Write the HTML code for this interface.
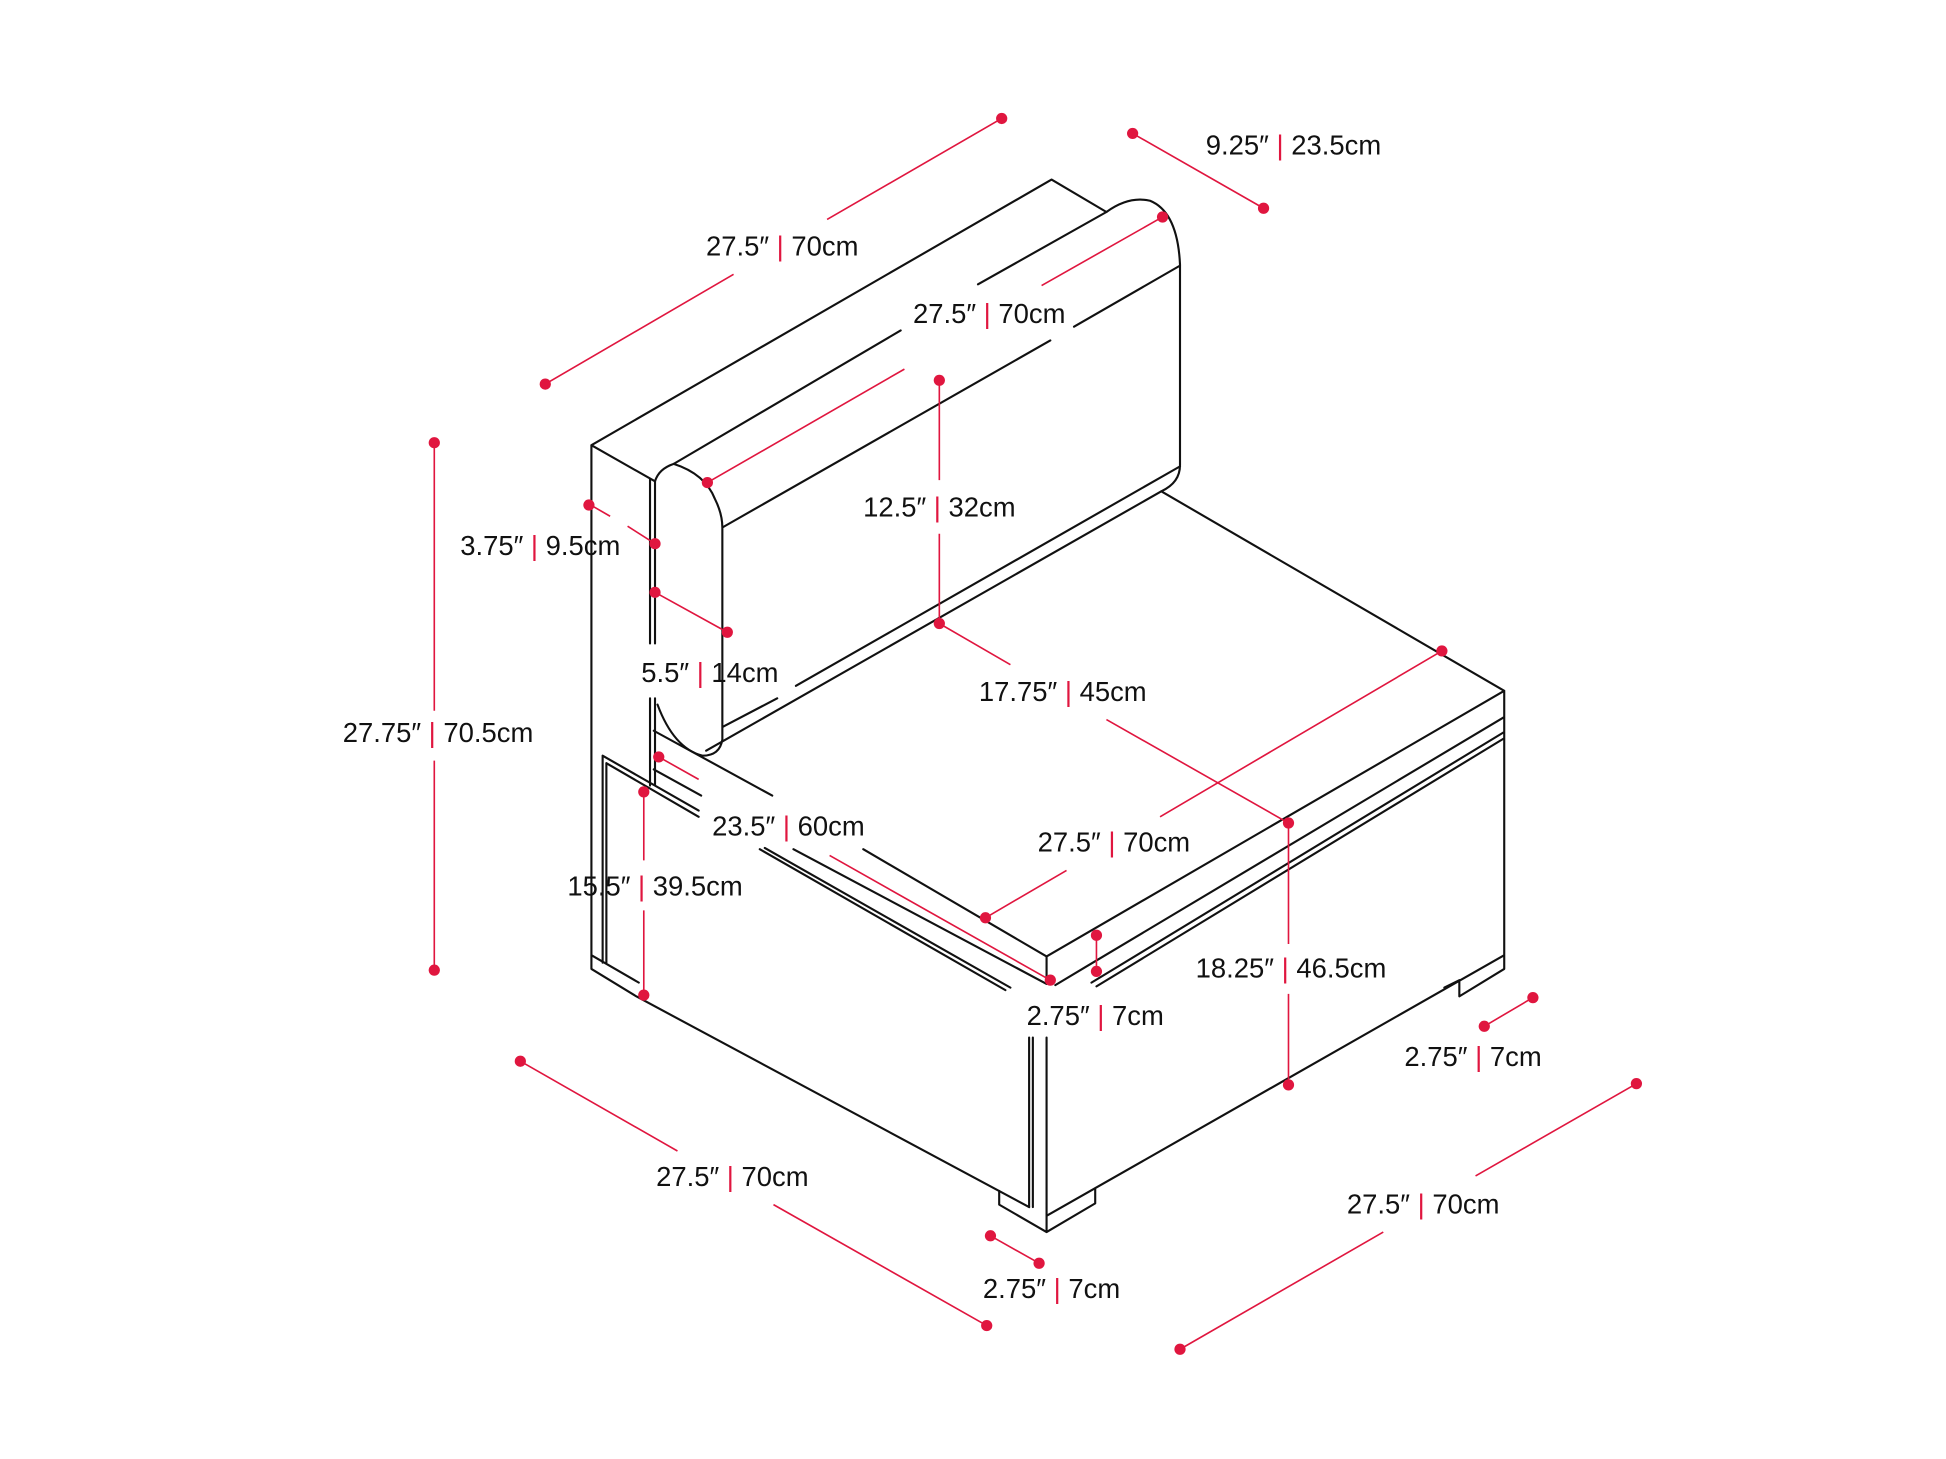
<!DOCTYPE html>
<html><head><meta charset="utf-8"><style>
html,body{margin:0;padding:0;background:#fff;width:1946px;height:1459px;overflow:hidden}
svg{position:absolute;left:0;top:0}
text{font-family:"Liberation Sans",sans-serif;font-size:22px;fill:#111;text-anchor:middle}
.b{fill:none;stroke:#111;stroke-width:1.7;stroke-linejoin:round;stroke-linecap:round}
.r{fill:none;stroke:#e0163f;stroke-width:1.3}
.d{fill:#e0163f}
.s{fill:#e0163f;font-weight:normal}
</style></head><body>
<svg width="1946" height="1459" viewBox="0 0 1560 1170" xmlns="http://www.w3.org/2000/svg">
<!-- back block -->
<path class="b" d="M474,357 L843,144 L887,170 M474,357 L525,386 M474,357 L474,777 L510,799 L825,968
M521,384 L521,516 M525,386 L525,516 M521,560 L521,630 M525,560 L525,630
M483,606 L483,772 M486,612 L486,772 M483,606 L560,650 M486,612 L560,655
M474,766 L512,788
M609,681 L806,794 M613,680 L810,792"/>
<!-- seat -->
<path class="b" d="M524,586 L619,638 M692,681 L839,767 L1206,554 L1206,766 M524,617 L562,638 M636,681 L839,789
M931,394 L1206,554
M839,767 L839,786 M846,790 L871,775 L1206,575
M875,788 L1206,587 M879,791 L1206,592
M839,975 L1206,766 M1206,766 L1206,777 L1170,799 L1170,786 M1158,792 L1170,786
M825,832 L825,968 M828,832 L828,968 M839,832 L839,988
M801,955 L801,966 L839,988 L878,965 L878,953"/>
<!-- back cushion -->
<path class="b" d="M540,372 L722,265 M784,228 L887,170 Q905,157 922,161 Q944,170 946,212 L946,373 Q946,387 931,394
M579,423 L842,273 M861,262 L946,213
M540,372 Q565,380 573,400 Q579,412 579,423 L579,593 Q577,606 563,606 Q540,600 527,565
M540,372 Q528,376 525,386
M579,583 L623,560 M638,550 L946,374 M566,602 L931,394"/>
<!-- red dimension lines -->
<path class="r" d="M437,308 L588,220 M663,176 L803,95
M908,107 L1013,167
M932,174 L835,229 M725,296 L567,387
M753,305 L753,385 M753,428 L753,500
M753,500 L810,533 M887,577 L1033,660
M470,403 L489,414 M503,422 L525,436
M525,475 L583,507
M348,355 L348,570 M348,610 L348,778
M528,607 L560,625 M665,686 L842,786
M516,635 L516,690 M516,730 L516,798
M1156,522 L930,655 M855,698 L790,736
M879,750 L879,779
M1033,660 L1033,757 M1033,797 L1033,870
M1190,823 L1229,800
M417,851 L543,923 M620,966 L791,1063
M794,991 L833,1013
M1312,869 L1183,943 M1109,988 L946,1082"/>
<g class="d">
<circle cx="437" cy="308" r="4.5"/><circle cx="803" cy="95" r="4.5"/>
<circle cx="908" cy="107" r="4.5"/><circle cx="1013" cy="167" r="4.5"/>
<circle cx="932" cy="174" r="4.5"/><circle cx="567" cy="387" r="4.5"/>
<circle cx="753" cy="305" r="4.5"/><circle cx="753" cy="500" r="4.5"/>
<circle cx="1033" cy="660" r="4.5"/>
<circle cx="472" cy="405" r="4.5"/><circle cx="525" cy="436" r="4.5"/>
<circle cx="525" cy="475" r="4.5"/><circle cx="583" cy="507" r="4.5"/>
<circle cx="348" cy="355" r="4.5"/><circle cx="348" cy="778" r="4.5"/>
<circle cx="528" cy="607" r="4.5"/><circle cx="842" cy="786" r="4.5"/>
<circle cx="516" cy="635" r="4.5"/><circle cx="516" cy="798" r="4.5"/>
<circle cx="1156" cy="522" r="4.5"/><circle cx="790" cy="736" r="4.5"/>
<circle cx="879" cy="750" r="4.5"/><circle cx="879" cy="779" r="4.5"/>
<circle cx="1033" cy="870" r="4.5"/>
<circle cx="1190" cy="823" r="4.5"/><circle cx="1229" cy="800" r="4.5"/>
<circle cx="417" cy="851" r="4.5"/><circle cx="791" cy="1063" r="4.5"/>
<circle cx="794" cy="991" r="4.5"/><circle cx="833" cy="1013" r="4.5"/>
<circle cx="1312" cy="869" r="4.5"/><circle cx="946" cy="1082" r="4.5"/>
</g>
<!-- labels -->
<text x="627" y="205">27.5″ <tspan class="s">|</tspan> 70cm</text>
<text x="1037" y="124">9.25″ <tspan class="s">|</tspan> 23.5cm</text>
<text x="793" y="259">27.5″ <tspan class="s">|</tspan> 70cm</text>
<text x="753" y="414">12.5″ <tspan class="s">|</tspan> 32cm</text>
<text x="433" y="445">3.75″ <tspan class="s">|</tspan> 9.5cm</text>
<text x="569" y="547">5.5″ <tspan class="s">|</tspan> 14cm</text>
<text x="852" y="562">17.75″ <tspan class="s">|</tspan> 45cm</text>
<text x="351" y="595">27.75″ <tspan class="s">|</tspan> 70.5cm</text>
<text x="632" y="670">23.5″ <tspan class="s">|</tspan> 60cm</text>
<text x="893" y="683">27.5″ <tspan class="s">|</tspan> 70cm</text>
<text x="525" y="718">15.5″ <tspan class="s">|</tspan> 39.5cm</text>
<text x="1035" y="784">18.25″ <tspan class="s">|</tspan> 46.5cm</text>
<text x="878" y="822">2.75″ <tspan class="s">|</tspan> 7cm</text>
<text x="1181" y="855">2.75″ <tspan class="s">|</tspan> 7cm</text>
<text x="587" y="951">27.5″ <tspan class="s">|</tspan> 70cm</text>
<text x="1141" y="973">27.5″ <tspan class="s">|</tspan> 70cm</text>
<text x="843" y="1041">2.75″ <tspan class="s">|</tspan> 7cm</text>
</svg>
</body></html>
